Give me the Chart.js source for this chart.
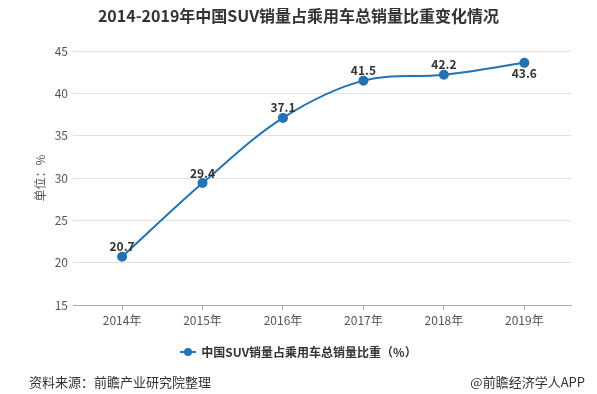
<!DOCTYPE html>
<html>
<head>
<meta charset="utf-8">
<script src="https://cdn.jsdelivr.net/npm/chart.js@4/dist/chart.umd.min.js"></script>
<style>
  html, body { margin:0; padding:0; background:#fff; }
  body { width:597px; height:394px; position:relative; overflow:hidden;
         font-family:"Noto Sans CJK SC","Noto Sans",sans-serif; }
  #wrap { position:absolute; left:0; top:0; width:597px; height:394px; }
  .title { position:absolute; left:0; width:597px; top:4px; text-align:center;
           font-size:16px; font-weight:bold; color:#333; line-height:22px; }
  .legend { position:absolute; left:0; width:597px; top:343px; display:flex;
            justify-content:center; align-items:center; font-size:12px; font-weight:bold; color:#333; line-height:18px; }
  .mk { position:relative; width:16px; height:10px; margin-right:5px; }
  .mk:before { content:""; position:absolute; left:0; top:4px; width:16px; height:2px; background:#2372b4; }
  .mk:after { content:""; position:absolute; left:4px; top:1px; width:8px; height:8px; border-radius:50%; background:#2372b4; }
  .src { position:absolute; left:29px; top:373px; font-size:13px; color:#333; line-height:18px; }
  .app { position:absolute; right:12px; top:373px; font-size:13px; color:#333; line-height:18px; }
</style>
</head>
<body>
<div id="wrap"><canvas id="c" width="597" height="394"></canvas></div>
<div class="title">2014-2019年中国SUV销量占乘用车总销量比重变化情况</div>
<div class="legend"><span class="mk"></span><span id="legText"></span></div>
<div class="src">资料来源：前瞻产业研究院整理</div>
<div class="app">@前瞻经济学人APP</div>
<script>
const categories = ["2014年", "2015年", "2016年", "2017年", "2018年", "2019年"];
const seriesName = "中国SUV销量占乘用车总销量比重（%）";
const shareValues = [20.7, 29.4, 37.1, 41.5, 42.2, 43.6];
const yTicks = [15, 20, 25, 30, 35, 40, 45];
const yTitle = "单位：%";

document.getElementById('legText').textContent = seriesName;

const lineColor = '#2372b4';
const labelBelow = [false, false, false, false, false, true];

const dataLabels = {
  id: 'dataLabels',
  afterDatasetsDraw(chart) {
    const ctx = chart.ctx;
    const meta = chart.getDatasetMeta(0);
    const ds = chart.data.datasets[0];
    ctx.save();
    ctx.font = 'bold 12px "Noto Sans CJK SC", "Noto Sans", sans-serif';
    ctx.fillStyle = '#333';
    ctx.textAlign = 'center';
    meta.data.forEach((pt, i) => {
      const v = ds.data[i].y;
      if (labelBelow[i]) {
        ctx.textBaseline = 'top';
        ctx.fillText(v.toFixed(1), pt.x, pt.y + 5);
      } else {
        ctx.textBaseline = 'bottom';
        ctx.fillText(v.toFixed(1), pt.x, pt.y - 4);
      }
    });
    ctx.restore();
  }
};

new Chart(document.getElementById('c'), {
  type: 'line',
  data: {
    datasets: [{
      label: seriesName,
      data: shareValues.map((v, i) => ({ x: i, y: v })),
      borderColor: lineColor,
      backgroundColor: lineColor,
      borderWidth: 2,
      pointRadius: 4,
      pointHoverRadius: 4,
      pointBackgroundColor: lineColor,
      pointBorderColor: lineColor,
      tension: 0.35,
      fill: false
    }]
  },
  options: {
    responsive: false,
    animation: false,
    events: [],
    layout: { padding: { top: 51, right: 26, bottom: 59, left: 0 } },
    plugins: { legend: { display: false }, title: { display: false }, tooltip: { enabled: false } },
    scales: {
      x: {
        type: 'linear',
        min: -0.61,
        max: 5.58,
        afterFit(s) { s.height = 30; },
        afterBuildTicks(s) { s.ticks = categories.map((_, i) => ({ value: i })); },
        ticks: {
          stepSize: 1,
          includeBounds: false,
          autoSkip: false,
          maxRotation: 0,
          padding: 3,
          color: '#555',
          font: { size: 12, family: '"Noto Sans CJK SC", "Noto Sans", sans-serif' },
          callback: (v) => categories[v] ?? ''
        },
        grid: { drawOnChartArea: false, drawTicks: true, tickLength: 5, color: '#aaa' },
        border: { display: true, color: '#aaa', width: 1 }
      },
      y: {
        min: 15,
        max: 45,
        afterFit(s) { s.width = 73; },
        afterBuildTicks(s) { s.ticks = yTicks.map(v => ({ value: v })); },
        ticks: {
          stepSize: 5,
          padding: 5,
          color: '#555',
          font: { size: 12, family: '"Noto Sans CJK SC", "Noto Sans", sans-serif' }
        },
        grid: { color: '#e0e0e0', drawTicks: false, tickLength: 0 },
        border: { display: false },
        title: {
          display: true,
          text: yTitle,
          color: '#555',
          font: { size: 12, family: '"Noto Sans CJK SC", "Noto Sans", sans-serif' },
          padding: { top: 33, bottom: 0 }
        }
      }
    }
  },
  plugins: [dataLabels]
});
</script>
</body>
</html>
